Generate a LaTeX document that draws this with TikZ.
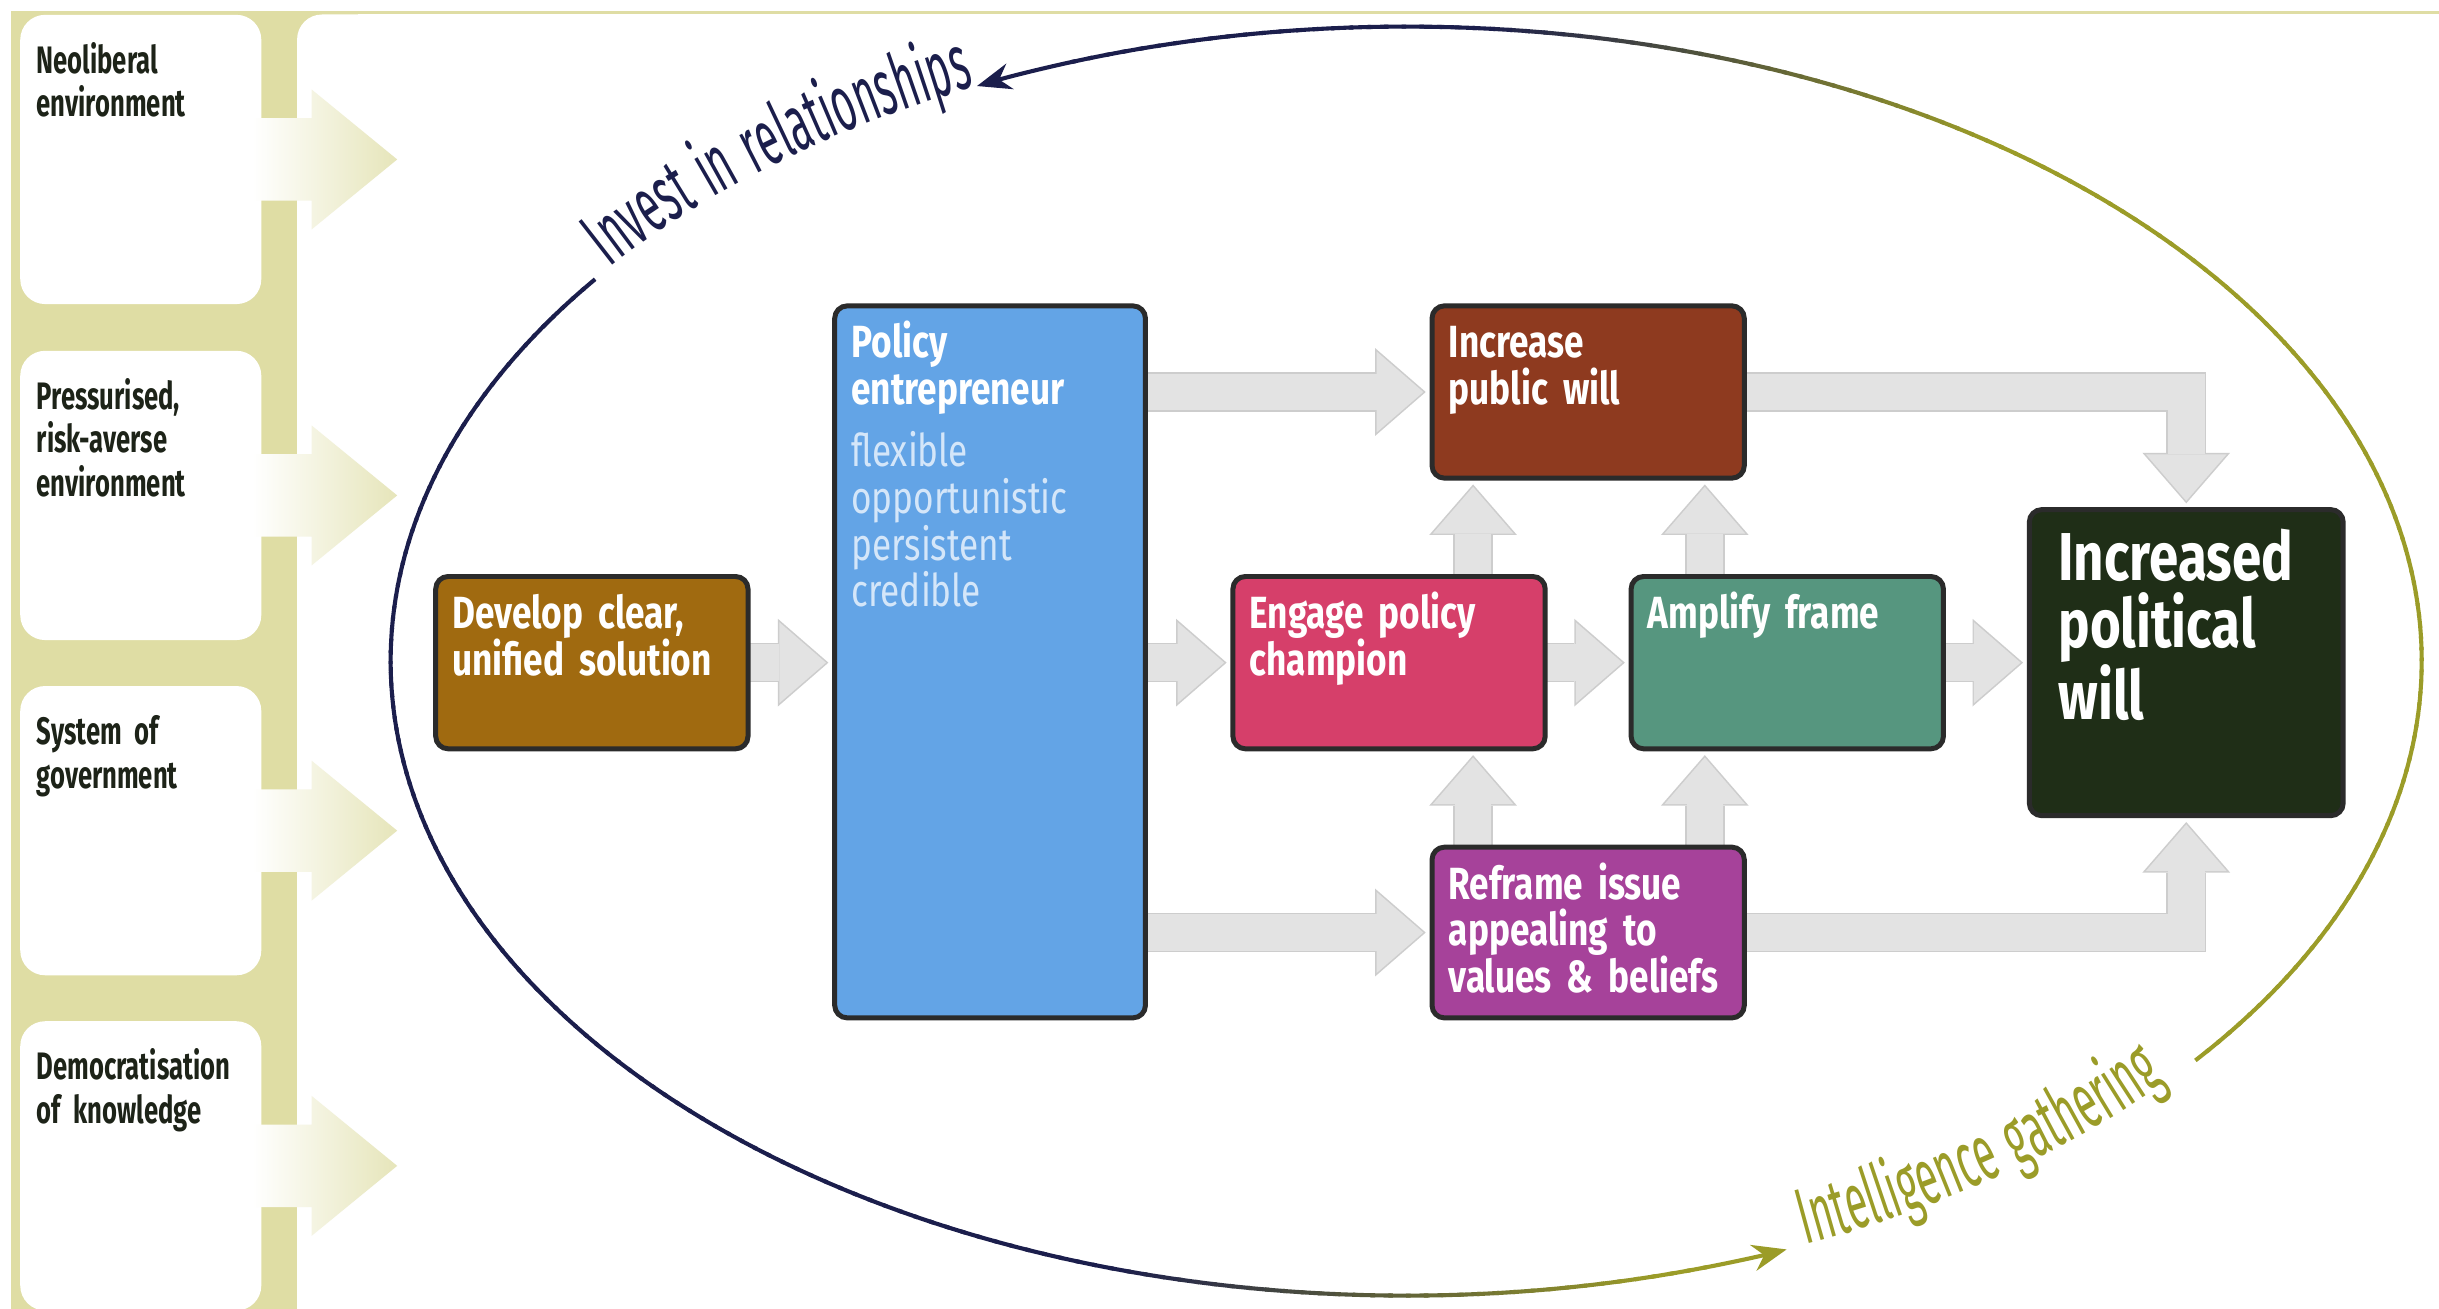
\documentclass[tikz,border=0pt]{standalone}
\usepackage{fontspec}
\setmainfont{Fira Sans}
\newfontfamily\hfont{Fira Sans}[FakeStretch=0.78,WordSpace=0.8]
\newfontfamily\lfont{Fira Sans}[FakeStretch=0.67,WordSpace=0.7]
\newfontfamily\cfont{Fira Sans}[FakeStretch=0.5,WordSpace=1.4]
\usetikzlibrary{arrows.meta,decorations.text}
\definecolor{khaki}{HTML}{DFDDA4}
\definecolor{arrowk}{HTML}{E6E5BA}
\definecolor{navyc}{HTML}{1B1E4C}
\definecolor{olivec}{HTML}{9B9C28}
\definecolor{gfillc}{HTML}{E3E3E3}
\definecolor{glinec}{HTML}{CDCDCD}
\definecolor{bordc}{HTML}{2B2B2B}
\definecolor{devc}{HTML}{A06A10}
\definecolor{pec}{HTML}{63A4E6}
\definecolor{ipwc}{HTML}{8E3A1F}
\definecolor{epcc}{HTML}{D63F6A}
\definecolor{afc}{HTML}{56967F}
\definecolor{rfc}{HTML}{A6429A}
\definecolor{ipolc}{HTML}{1F2E17}
\definecolor{subc}{HTML}{D4E6F9}
\definecolor{ltextc}{HTML}{1D2318}
\pgfdeclarelayer{bgl}
\pgfdeclarelayer{cl}
\pgfsetlayers{bgl,cl,main}
\newcommand\cfontsz{\fontsize{29}{29}\cfont}
\newcommand\gconn[1]{\draw[gout] #1; \draw[gin] #1;}
\tikzset{
 box/.style={draw=bordc, line width=0.064cm, rounded corners=0.16cm, minimum width=4.016cm, minimum height=2.216cm, inner sep=0},
 lbox/.style={fill=white, rounded corners=0.32cm, minimum width=3.1cm, minimum height=3.72cm, inner sep=0},
 htext/.style={text=white, font=\fontsize{16.5}{17.1}\hfont\bfseries, anchor=base west, inner sep=0, text width=5cm, align=left},
 subtext/.style={text=subc, font=\fontsize{16.5}{17.1}\hfont, anchor=base west, inner sep=0, text width=5cm, align=left},
 bigtext/.style={text=white, font=\fontsize{24.8}{24.5}\hfont\bfseries, anchor=base west, inner sep=0, text width=5cm, align=left},
 ltext/.style={text=ltextc, font=\fontsize{14}{15.9}\lfont\bfseries, anchor=base west, inner sep=0, text width=3cm, align=left},
 gout/.style={draw=glinec, line width=0.51cm, -{Triangle[length=0.65cm,width=1.128cm,line width=0pt]}, shorten >=0.049cm},
 gin/.style={draw=gfillc, line width=0.47cm, -{Triangle[length=0.6cm,width=1.04cm,line width=0pt]}, shorten >=0.08cm},
 eline/.style={line width=1.5pt},
}
\begin{document}
\begin{tikzpicture}[x=0.02cm,y=0.02cm]
\useasboundingbox (0,0) rectangle (1568,-841.5);
\clip (0,0) rectangle (1568,-841.5);

% ---------- main boxes ----------
\node[box, fill=devc] (dev) at (380.5,-426) {};
\node[box, fill=pec, minimum width=3.996cm, minimum height=9.156cm] (pe) at (636.5,-425.5) {};
\node[box, fill=ipwc] (ipw) at (1021,-252) {};
\node[box, fill=epcc] (epc) at (893,-426) {};
\node[box, fill=afc] (af) at (1149,-426) {};
\node[box, fill=rfc, minimum height=2.196cm] (rf) at (1021,-599.5) {};
\node[box, fill=ipolc, minimum width=4.036cm, minimum height=3.936cm] (ipol) at (1405.5,-426) {};

\node[htext] (tdev) at ([xshift=0.24cm,yshift=-0.7cm]dev.north west) {Develop clear,\\unified solution};
\node[htext] (tpe) at ([xshift=0.24cm,yshift=-0.7cm]pe.north west) {Policy\\entrepreneur};
\node[subtext] (tpes) at ([xshift=0.24cm,yshift=-2.1cm]pe.north west) {flexible\\opportunistic\\persistent\\credible};
\node[htext] (tipw) at ([xshift=0.24cm,yshift=-0.7cm]ipw.north west) {Increase\\public will};
\node[htext] (tepc) at ([xshift=0.24cm,yshift=-0.7cm]epc.north west) {Engage policy\\champion};
\node[htext] (taf) at ([xshift=0.24cm,yshift=-0.7cm]af.north west) {Amplify frame};
\node[htext] (trf) at ([xshift=0.24cm,yshift=-0.7cm]rf.north west) {Reframe issue\\appealing to\\values \& beliefs};
\node[bigtext] (tipol) at ([xshift=0.4cm,yshift=-0.94cm]ipol.north west) {Increased\\political\\will};

\coordinate (u1) at ([xshift=0.56cm]ipw.south west);
\coordinate (u2) at ([xshift=-0.54cm]ipw.south east);

% ---------- background ----------
\begin{pgfonlayer}{bgl}
\fill[khaki] (7,-7) rectangle (1568,-9.3);
\fill[khaki] (7,-7) rectangle (230,-900);
\fill[white, rounded corners=0.32cm] (191,-9.3) rectangle (1700,-1000);
\node[lbox] (lb1) at (90.5,-102.5) {};
\node[lbox] (lb2) at (90.5,-318.5) {};
\node[lbox] (lb3) at (90.5,-534) {};
\node[lbox] (lb4) at (90.5,-749.5) {};
\foreach \b in {lb1,lb2,lb3,lb4}{
  \begin{scope}[shift={(\b.east)}]
  \shade[left color=white, right color=arrowk] (-6,26.5) -- (32,26.5) -- (32,45) -- (87,0) -- (32,-45) -- (32,-26.5) -- (-6,-26.5) -- cycle;
  \end{scope}
}
% ellipse
\coordinate (ec) at (904,-425);
\foreach \t in {143,...,286}{
  \pgfmathsetmacro\te{\t+1.25}
  \pgfmathtruncatemacro\f{max(0,min(100,(74+653*cos(\t)-126*sin(\t))/3.5))}
  \draw[eline,draw=olivec!\f!navyc] (ec) ++(\t:13.06cm and 8.16cm) arc[start angle=\t,end angle=\te,x radius=13.06cm,y radius=8.16cm];
}
\draw[eline,draw=olivec,-{Stealth[length=0.44cm,width=0.34cm]}] (ec) ++(287:13.06cm and 8.16cm) arc[start angle=287,end angle=292,x radius=13.06cm,y radius=8.16cm];
\foreach \t in {321,...,468}{
  \pgfmathsetmacro\te{\t+1.25}
  \pgfmathtruncatemacro\f{max(0,min(100,(74+653*cos(\t)-126*sin(\t))/3.5))}
  \draw[eline,draw=olivec!\f!navyc] (ec) ++(\t:13.06cm and 8.16cm) arc[start angle=\t,end angle=\te,x radius=13.06cm,y radius=8.16cm];
}
\draw[eline,draw=navyc,-{Stealth[length=0.44cm,width=0.34cm]}] (ec) ++(469:13.06cm and 8.16cm) arc[start angle=469,end angle=475,x radius=13.06cm,y radius=8.16cm];
\path[decorate, decoration={text along path, text={|\cfontsz|Invest in relationships}, text color=navyc, text align=center}] (ec) ++(148:13.06cm and 8.16cm) arc[start angle=148,end angle=110,x radius=13.06cm,y radius=8.16cm];
\path[decorate, decoration={text along path, text={|\cfontsz|Intelligence gathering}, text color=olivec, text align=center}] (ec) ++(287:13.06cm and 8.16cm) arc[start angle=287,end angle=326,x radius=13.06cm,y radius=8.16cm];
\end{pgfonlayer}

\node[ltext] (tl1) at ([xshift=0.212cm,yshift=-0.76cm]lb1.north west) {Neoliberal\\environment};
\node[ltext] (tl2) at ([xshift=0.212cm,yshift=-0.76cm]lb2.north west) {Pressurised,\\risk-averse\\environment};
\node[ltext] (tl3) at ([xshift=0.212cm,yshift=-0.76cm]lb3.north west) {System of\\government};
\node[ltext] (tl4) at ([xshift=0.212cm,yshift=-0.76cm]lb4.north west) {Democratisation\\of knowledge};

% ---------- gray connectors ----------
\begin{pgfonlayer}{cl}
\gconn{(dev.center) -- (dev.center -| pe.west)}
\gconn{(pe.center |- ipw.center) -- (ipw.west)}
\gconn{(pe.center |- epc.center) -- (epc.west)}
\gconn{(pe.center |- rf.center) -- (rf.west)}
\gconn{(epc.center) -- (af.west)}
\gconn{(af.center) -- (af.center -| ipol.west)}
\gconn{(ipw.center) -| (ipol.north)}
\gconn{(rf.center) -| (ipol.south)}
\gconn{(u1 |- epc.center) -- (u1)}
\gconn{(u2 |- af.center) -- (u2)}
\gconn{(u1 |- rf.center) -- (u1 |- epc.south)}
\gconn{(u2 |- rf.center) -- (u2 |- af.south)}
\end{pgfonlayer}
\end{tikzpicture}
\end{document}
